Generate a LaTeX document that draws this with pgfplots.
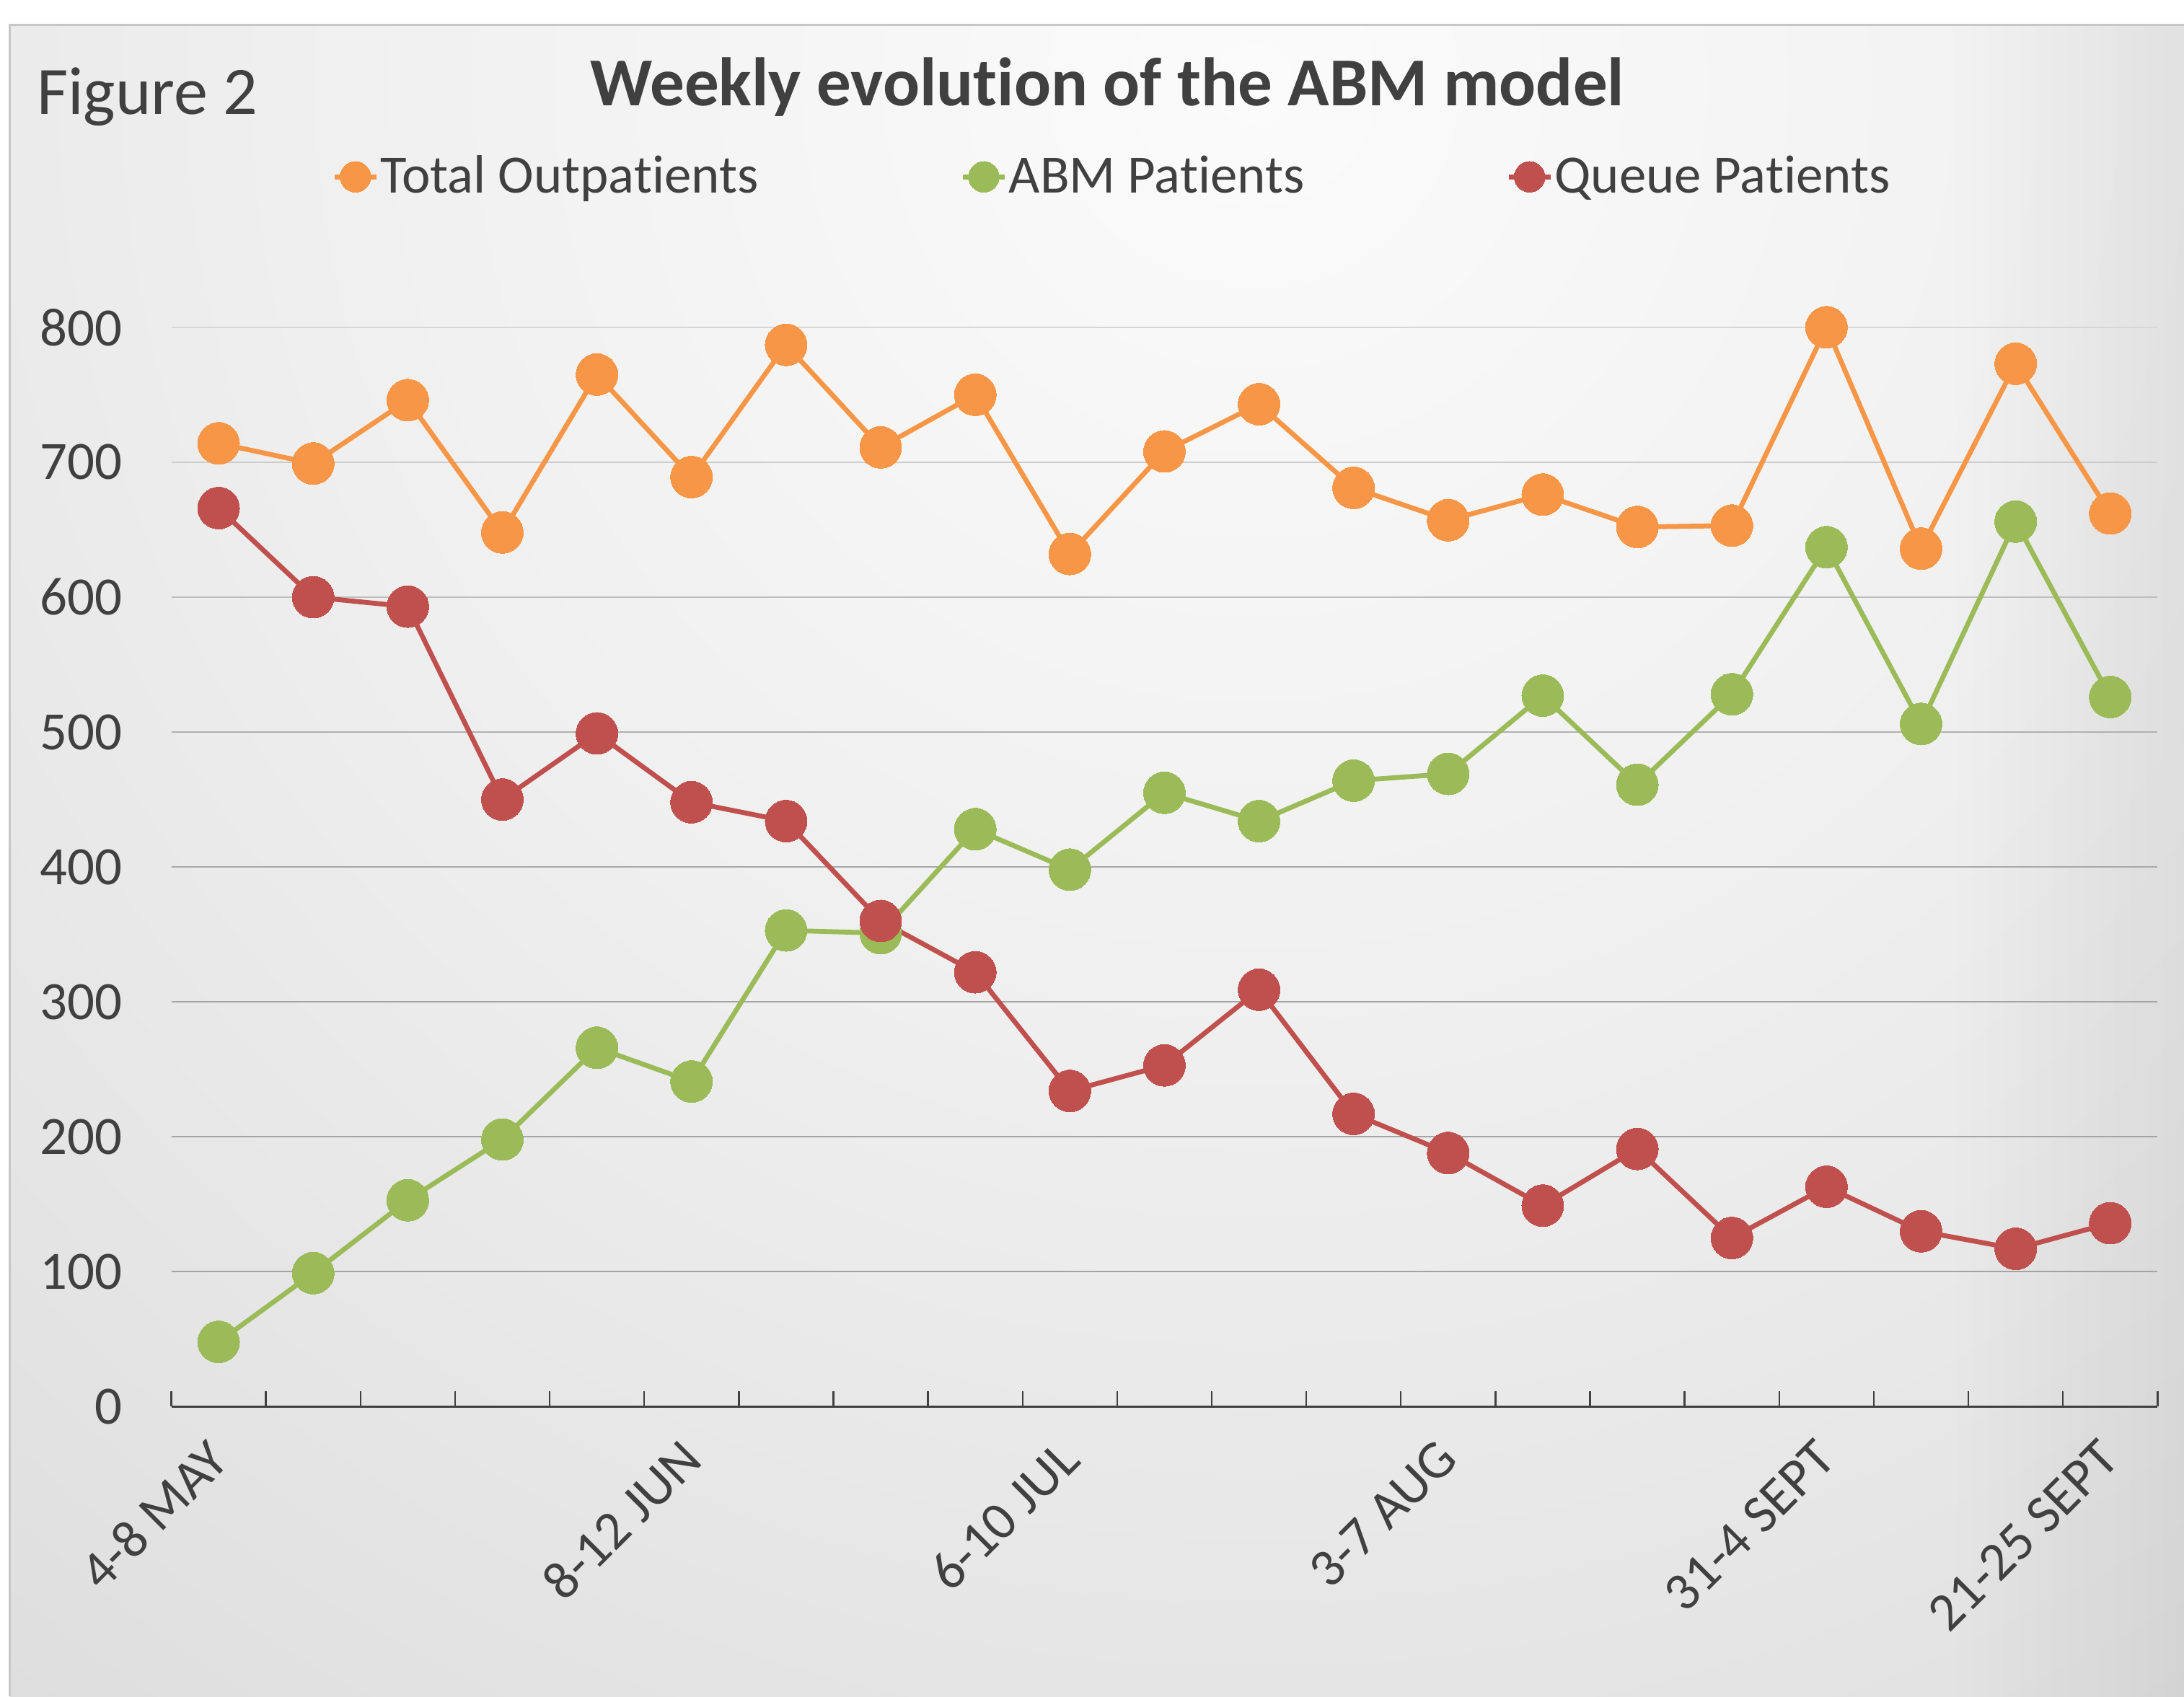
\documentclass[border=0pt]{standalone}
\usepackage{fontspec}
\setmainfont{Carlito}[Ligatures=CommonOff]
\usepackage{pgfplots}
\usepackage{pgfplotstable}
\pgfplotsset{compat=1.18}
\usetikzlibrary{fadings}
\definecolor{txt}{HTML}{404040}
\definecolor{corange}{HTML}{F79646}
\definecolor{cgreen}{HTML}{9BBB59}
\definecolor{cred}{HTML}{C0504D}
\definecolor{bg0}{HTML}{FBFBFB}
\definecolor{bg1}{HTML}{F0F0F0}
\definecolor{bg2}{HTML}{E2E2E2}
\definecolor{bg3}{HTML}{D2D2D2}
\definecolor{bg4}{HTML}{C4C4C4}
\definecolor{g8}{HTML}{D6D6D6}
\definecolor{g7}{HTML}{CCCCCC}
\definecolor{g6}{HTML}{BEBEBE}
\definecolor{g5}{HTML}{B0B0B0}
\definecolor{g4}{HTML}{A8A8A8}
\definecolor{g3}{HTML}{A5A5A5}
\definecolor{g2}{HTML}{A4A4A4}
\definecolor{g1}{HTML}{A3A3A3}
\pgfdeclareradialshading{bgshade}{\pgfpointorigin}{color(0bp)=(bg0); color(12.5bp)=(bg1); color(25bp)=(bg2); color(37.5bp)=(bg3); color(50bp)=(bg4); color(80bp)=(bg4)}
\tikzfading[name=fadeR, left color=transparent!100, right color=transparent!0]

\pgfplotstableread{
idx total abm queue
0 714 48 666
1 699 99 600
2 746 153 593
3 648 198 450
4 765 266 499
5 689 241 448
6 787 353 434
7 711 351 360
8 750 428 322
9 632 398 234
10 708 455 253
11 743 434 309
12 681 464 217
13 657 469 188
14 676 527 149
15 652 461 191
16 653 528 125
17 800 637 163
18 636 506 130
19 773 656 117
20 662 526 136
}\datatable

\begin{document}
\begin{tikzpicture}
\useasboundingbox (0bp,0bp) rectangle (627.2bp,487.2bp);
\begin{scope}[x=0.4bp, y=0.4bp]
\fill[white] (0,0) rectangle (1568,1218);
\begin{scope}
\clip (7,0) rectangle (1568,1200);
\shade[shading=bgshade] (-400,-142) rectangle (2200,2458);
\fill[black, opacity=0.06, path fading=fadeR] (1400,0) rectangle (1568,1200);
\end{scope}
\draw[black!22, line width=0.6bp] (7,0) -- (7,1200) -- (1568,1200);
\end{scope}

\begin{axis}[
 at={(49.2bp,83.2bp)}, anchor=south west,
 scale only axis, width=570.4bp, height=310bp,
 xmin=-0.5, xmax=20.5, ymin=0, ymax=800,
 clip=false,
 axis x line*=bottom, axis y line*=left,
 x axis line style={draw=txt, line width=0.8bp, -},
 y axis line style={draw=none},
 xtick={0,5,9,13,17,20},
 xticklabels={4-8 MAY, 8-12 JUN, 6-10 JUL, 3-7 AUG, 31-4 SEPT, 21-25 SEPT},
 minor xtick={-0.5,0.5,1.5,2.5,3.5,4.5,5.5,6.5,7.5,8.5,9.5,10.5,11.5,12.5,13.5,14.5,15.5,16.5,17.5,18.5,19.5,20.5},
 ytick={0,100,...,800},
 major tick length=0pt,
 minor tick length=4.4bp,
 tick align=inside,
 every tick/.style={txt, line width=0.5bp},
 xticklabel style={xshift=-13.2bp, yshift=-0.8bp, rotate=45, anchor=north east, inner sep=0pt, xshift=1.2bp, yshift=-12bp, font=\fontsize{15.5bp}{18bp}\selectfont, text=txt},
 yticklabel style={anchor=east, inner sep=0pt, xshift=-14bp, font=\fontsize{15.5bp}{18bp}\selectfont, text=txt},
 /pgf/number format/assume math mode=true,
 legend style={at={(0.0806,1.1394)}, anchor=west, draw=none, fill=none, legend columns=3, inner xsep=0pt, inner ysep=0pt,
   font=\fontsize{15.5bp}{18bp}\selectfont,
   nodes={inner sep=0.5bp, text depth=0.15em, text=txt, font=\fontsize{15.5bp}{18bp}\selectfont},
   /tikz/every even column/.append style={column sep=57.5bp}},
 legend image code/.code={\draw[mark repeat=2, mark phase=2, #1, mark size=4.4bp] plot coordinates {(0bp,0bp) (6bp,0bp) (12bp,0bp)};},
]
\draw[g8, line width=0.45bp] (axis cs:-0.5,800) -- (axis cs:20.5,800);
\draw[g7, line width=0.45bp] (axis cs:-0.5,700) -- (axis cs:20.5,700);
\draw[g6, line width=0.45bp] (axis cs:-0.5,600) -- (axis cs:20.5,600);
\draw[g5, line width=0.45bp] (axis cs:-0.5,500) -- (axis cs:20.5,500);
\draw[g4, line width=0.45bp] (axis cs:-0.5,400) -- (axis cs:20.5,400);
\draw[g3, line width=0.45bp] (axis cs:-0.5,300) -- (axis cs:20.5,300);
\draw[g2, line width=0.45bp] (axis cs:-0.5,200) -- (axis cs:20.5,200);
\draw[g1, line width=0.45bp] (axis cs:-0.5,100) -- (axis cs:20.5,100);

\addplot[corange, line width=1.4bp, mark=*, mark size=6bp, mark options={fill=corange, draw=corange, line width=0pt}] table[x=idx, y=total] {\datatable};
\addlegendentry{Total Outpatients}
\addplot[cgreen, line width=1.4bp, mark=*, mark size=6bp, mark options={fill=cgreen, draw=cgreen, line width=0pt}] table[x=idx, y=abm] {\datatable};
\addlegendentry{ABM Patients}
\addplot[cred, line width=1.4bp, mark=*, mark size=6bp, mark options={fill=cred, draw=cred, line width=0pt}] table[x=idx, y=queue] {\datatable};
\addlegendentry{Queue Patients}
\end{axis}

\begin{scope}[x=0.4bp, y=0.4bp]
\node[anchor=base, inner sep=0pt, text=txt, font=\bfseries\fontsize{19.7bp}{23bp}\selectfont] at (795,1142) {Weekly evolution of the ABM model};
\node[anchor=base west, inner sep=0pt, text=txt, font=\fontsize{19.5bp}{23bp}\selectfont] at (26,1136) {Figure 2};
\end{scope}
\end{tikzpicture}
\end{document}
